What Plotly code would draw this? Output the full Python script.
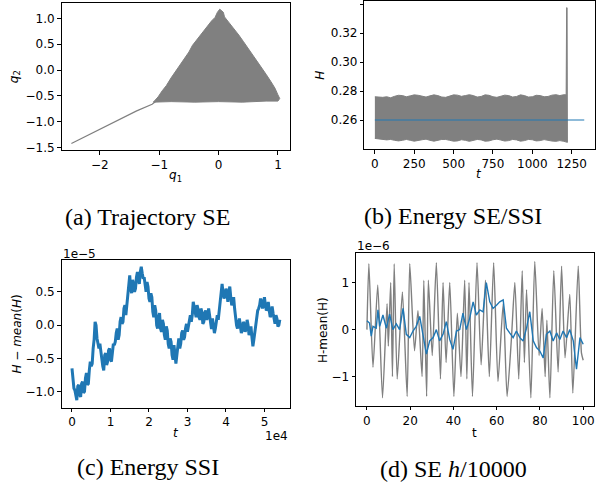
import plotly.graph_objects as go

# ---------------- (a) Trajectory SE ----------------
traj_region_q1 = [-1.10, -1.02, -0.95, -0.88, -0.80, -0.72, -0.66, -0.58, -0.50, -0.44, -0.36, -0.28,
                  -0.20, -0.12, -0.06, -0.02, 0.02, 0.08, 0.10, 0.18, 0.26, 0.34, 0.42, 0.50, 0.58,
                  0.65, 0.72, 0.80, 0.88, 0.95, 1.00, 1.03, 1.00, 0.80, 0.40, 0.00, -0.40, -0.80, -1.10]
traj_region_q2 = [-0.62, -0.52, -0.40, -0.30, -0.15, -0.02, 0.10, 0.22, 0.35, 0.48, 0.60, 0.72,
                  0.85, 0.95, 1.02, 1.12, 1.18, 1.12, 1.03, 0.92, 0.80, 0.68, 0.55, 0.42, 0.30,
                  0.18, 0.05, -0.08, -0.22, -0.35, -0.48, -0.55, -0.60, -0.60, -0.62, -0.61, -0.62, -0.61, -0.62]
traj_tail_q1 = [-2.48, -1.38, -1.12, -1.05]
traj_tail_q2 = [-1.42, -0.79, -0.66, -0.60]

# ---------------- (b) Energy SE/SSI ----------------
se_t = [0, 25, 50, 75, 100, 125, 150, 175, 200, 225, 250, 275, 300, 325, 350, 375, 400, 425, 450, 475,
        500, 525, 550, 575, 600, 625, 650, 675, 700, 725, 750, 775, 800, 825, 850, 875, 900, 925, 950,
        975, 1000, 1025, 1050, 1075, 1100, 1125, 1150, 1175, 1200, 1215]
se_H_upper = [0.2762, 0.2760, 0.2758, 0.2762, 0.2755, 0.2765, 0.2772, 0.2770, 0.2762, 0.2768, 0.2775,
              0.2772, 0.2764, 0.2760, 0.2768, 0.2775, 0.2770, 0.2760, 0.2758, 0.2765, 0.2775, 0.2773,
              0.2765, 0.2770, 0.2776, 0.2770, 0.2760, 0.2764, 0.2775, 0.2772, 0.2762, 0.2758, 0.2766,
              0.2773, 0.2770, 0.2760, 0.2764, 0.2775, 0.2770, 0.2760, 0.2762, 0.2772, 0.2770, 0.2762,
              0.2764, 0.2773, 0.2776, 0.2770, 0.2776, 0.2775]
se_H_lower = [0.2475, 0.2470, 0.2468, 0.2465, 0.2468, 0.2462, 0.2458, 0.2462, 0.2468, 0.2462, 0.2456,
              0.2460, 0.2466, 0.2470, 0.2462, 0.2456, 0.2460, 0.2468, 0.2468, 0.2462, 0.2456, 0.2458,
              0.2466, 0.2462, 0.2455, 0.2460, 0.2468, 0.2465, 0.2456, 0.2458, 0.2466, 0.2470, 0.2464,
              0.2457, 0.2460, 0.2468, 0.2465, 0.2456, 0.2460, 0.2468, 0.2466, 0.2458, 0.2460, 0.2467,
              0.2464, 0.2457, 0.2455, 0.2460, 0.2455, 0.2452]
se_spike_t = [1218, 1221, 1223]
se_spike_H = [0.3375, 0.3375, 0.2448]
ssi_t = [0, 1330]
ssi_H = [0.2602, 0.2602]

# ---------------- (c) Energy SSI (units: 1e4 for t, 1e-5 for H) ----------------
# values at t = 0, 0.05, ..., 5.40
ssi_long_dH = [-0.65, -0.95, -1.10, -0.92, -1.05, -0.88, -1.02, -0.80, -0.90, -0.68, -0.62, -0.35,
               0.05, -0.20, -0.35, -0.40, -0.62, -0.45, -0.60, -0.38, -0.52, -0.40, -0.30, -0.12,
               -0.22, 0.05, 0.02, 0.25, 0.15, 0.55, 0.75, 0.48, 0.62, 0.55, 0.80, 0.62, 0.88, 0.70,
               0.55, 0.65, 0.40, 0.48, 0.20, 0.30, 0.00, 0.12, -0.05, 0.08, -0.15, -0.02, -0.28,
               -0.20, -0.45, -0.30, -0.58, -0.28, -0.35, -0.12, -0.22, -0.05, -0.10, 0.10, 0.05,
               0.35, 0.18, 0.30, 0.12, 0.25, 0.02, 0.18, 0.08, 0.25, -0.02, 0.10, -0.12, 0.05, 0.08,
               0.35, 0.62, 0.40, 0.55, 0.35, 0.58, 0.30, 0.42, 0.10, -0.05, 0.10, -0.12, 0.05, -0.10,
               0.08, -0.15, -0.02, -0.32, -0.10, 0.10, 0.25, 0.40, 0.25, 0.42, 0.22, 0.35, 0.12,
               0.28, 0.05, 0.15, -0.02, 0.08]
# values at t = 0.025, 0.075, ..., 5.375 (between the samples above)
ssi_long_dH_mid = [-0.85, -0.98, -1.13, -0.90, -1.08, -0.85, -1.00, -0.72, -0.88, -0.55, -0.58, -0.22,
                   0.00, -0.30, -0.28, -0.55, -0.68, -0.42, -0.55, -0.35, -0.55, -0.28, -0.25, -0.05,
                   -0.15, 0.12, 0.05, 0.30, 0.30, 0.68, 0.55, 0.68, 0.50, 0.72, 0.70, 0.80, 0.78, 0.72,
                   0.50, 0.58, 0.35, 0.42, 0.12, 0.22, -0.05, 0.18, -0.10, 0.02, -0.22, -0.08, -0.35,
                   -0.25, -0.52, -0.42, -0.45, -0.20, -0.28, -0.08, -0.18, 0.02, -0.02, 0.15, 0.15,
                   0.28, 0.12, 0.24, 0.08, 0.20, 0.05, 0.22, 0.12, 0.15, -0.06, 0.02, -0.05, 0.15, 0.20,
                   0.50, 0.48, 0.45, 0.48, 0.50, 0.42, 0.35, 0.25, 0.00, 0.02, -0.02, -0.08, 0.02, -0.05,
                   0.00, -0.10, -0.18, -0.22, 0.00, 0.22, 0.30, 0.35, 0.32, 0.30, 0.25, 0.22, 0.15,
                   0.18, 0.02, 0.10, 0.00]

# ---------------- (d) SE h/10000 (units: 1e-6) ----------------
se_small_t = [0, 0.9, 2.8, 5.0, 7.2, 9.3, 9.9, 11.0, 11.8, 12.6, 14.0, 16.4, 18.6, 19.8, 22.0, 23.6,
              25.5, 26.3, 27.6, 28.4, 30.2, 32.1, 34.0, 35.2, 36.6, 38.3, 40.2, 41.8, 43.5, 45.2,
              46.2, 47.2, 48.8, 50.9, 52.8, 54.8, 56.6, 58.6, 60.6, 63.0, 64.8, 66.8, 68.4, 70.2,
              71.8, 72.8, 73.8, 75.8, 77.6, 79.6, 81.0, 82.4, 83.2, 84.6, 86.4, 88.4, 90.0, 91.6,
              93.8, 95.2, 97.7, 99.2, 100]
se_small_dH = [0.0, 1.40, -0.80, 0.95, -1.45, 0.55, -0.35, 1.0, -1.0, 1.40, -1.05, 0.80, -1.42, 1.40,
               -0.45, 0.40, -1.0, 1.05, -1.42, 1.05, -0.55, 1.42, -1.05, 1.0, -0.7, 1.0, -1.42, 0.35,
               -1.0, 1.05, -1.05, 1.0, -1.42, 1.42, -0.75, 1.05, -1.0, 1.42, -1.1, 0.55, -1.42, -0.2,
               1.0, -1.05, 1.25, -0.7, 0.85, -1.45, 1.45, -0.55, 0.45, -1.0, 0.2, -1.45, 1.25, -0.9,
               1.35, -0.6, 0.75, -1.35, 1.35, -0.5, -0.65]
ssi_small_t = [0, 1.2, 2.0, 2.8, 4.3, 5.1, 5.9, 7.4, 9.0, 10.5, 12.0, 13.6, 15.1, 16.7, 18.2, 19.8,
               21.3, 22.8, 24.4, 25.9, 27.5, 29.0, 30.6, 32.1, 33.6, 35.2, 36.7, 38.3, 39.8, 41.4,
               42.9, 44.4, 46.0, 47.5, 49.1, 50.6, 52.2, 53.7, 55.2, 56.8, 58.3, 59.9, 61.4, 63.0,
               64.5, 66.0, 67.6, 69.1, 70.7, 72.2, 73.8, 75.3, 76.9, 78.4, 79.9, 81.5, 83.0, 84.6,
               86.1, 87.7, 89.2, 90.7, 92.3, 93.8, 95.4, 96.9, 98.5, 100]
ssi_small_dH = [0.19, 0.14, -0.14, 0.07, 0.03, 0.42, 0.07, 0.31, 0.03, 0.33, 0.0, 0.12, 0.0, 0.45,
                -0.1, -0.17, -0.03, 0.07, 0.28, -0.1, -0.52, -0.24, -0.17, 0.0, -0.24, -0.1, 0.17,
                -0.21, -0.42, -0.03, 0.0, 0.35, 0.0, 0.24, 0.59, 0.31, 0.42, 0.38, 1.0, 0.59, 0.45,
                0.52, 0.59, 0.63, 0.03, -0.07, -0.17, -0.03, -0.17, -0.24, 0.03, 0.38, -0.24, -0.38,
                -0.45, -0.6, -0.1, -0.03, -0.24, -0.07, -0.21, -0.03, -0.17, 0.0, -0.24, -0.84,
                -0.17, -0.31]

captions = ["(a) Trajectory SE", "(b) Energy SE/SSI", "(c) Energy SSI", "(d) SE <i>h</i>/10000"]

GRAY = "#808080"
BLUE = "#1f77b4"
W, H = 608, 492


def px(x):
    return x / W


def py(y):
    return 1 - y / H


fig = go.Figure()

# (a)
fig.add_trace(go.Scatter(x=traj_region_q1, y=traj_region_q2, mode="lines", fill="toself",
                         fillcolor=GRAY, line=dict(color=GRAY, width=1), xaxis="x", yaxis="y",
                         showlegend=False))
fig.add_trace(go.Scatter(x=traj_tail_q1, y=traj_tail_q2, mode="lines",
                         line=dict(color=GRAY, width=1.2), xaxis="x", yaxis="y", showlegend=False))

# (b)
band_t = se_t + se_spike_t + se_t[::-1]
band_H = se_H_upper + se_spike_H + se_H_lower[::-1]
fig.add_trace(go.Scatter(x=band_t, y=band_H, mode="lines", fill="toself", fillcolor=GRAY,
                         line=dict(color=GRAY, width=1), xaxis="x2", yaxis="y2", showlegend=False))
fig.add_trace(go.Scatter(x=ssi_t, y=ssi_H, mode="lines", line=dict(color="rgba(31,119,180,0.5)", width=2.2),
                         xaxis="x2", yaxis="y2", showlegend=False))

# (c) interleave the two sample sets along the time grid
c_t, c_v = [], []
for i, v in enumerate(ssi_long_dH):
    c_t.append(0.05 * i)
    c_v.append(v)
    if i < len(ssi_long_dH_mid):
        c_t.append(0.05 * i + 0.025)
        c_v.append(ssi_long_dH_mid[i])
fig.add_trace(go.Scatter(x=c_t, y=c_v, mode="lines", line=dict(color=BLUE, width=3),
                         xaxis="x3", yaxis="y3", showlegend=False))

# (d)
fig.add_trace(go.Scatter(x=se_small_t, y=se_small_dH, mode="lines", line=dict(color=GRAY, width=1.4, shape="spline", smoothing=0.6),
                         xaxis="x4", yaxis="y4", showlegend=False))
fig.add_trace(go.Scatter(x=ssi_small_t, y=ssi_small_dH, mode="lines", line=dict(color=BLUE, width=1.4),
                         xaxis="x4", yaxis="y4", showlegend=False))

tickfont = dict(family="DejaVu Sans", size=12, color="black")
base = dict(showline=True, mirror=True, linecolor="black", linewidth=1, ticks="outside",
            ticklen=3.5, tickwidth=1, tickcolor="black", showgrid=False, zeroline=False,
            tickfont=tickfont)

fig.update_layout(
    width=W, height=H, margin=dict(l=0, r=0, t=0, b=0),
    paper_bgcolor="white", plot_bgcolor="white",
    xaxis=dict(base, domain=[px(61.7), px(290)], range=[-2.645, 1.195], anchor="y",
               tickvals=[-2, -1, 0, 1]),
    yaxis=dict(base, domain=[py(151.7), py(3)], range=[-1.55, 1.30], anchor="x",
               tickvals=[-1.5, -1.0, -0.5, 0.0, 0.5, 1.0], tickformat=".1f"),
    xaxis2=dict(base, domain=[px(365), px(595.7)], range=[-66.5, 1396.5], anchor="y2",
                tickvals=[0, 250, 500, 750, 1000, 1250]),
    yaxis2=dict(base, domain=[py(151), py(1.5)], range=[0.2399, 0.3418], anchor="x2",
                tickvals=[0.26, 0.28, 0.30, 0.32, 0.34], tickformat=".2f"),
    xaxis3=dict(base, domain=[px(61.7), px(290.7)], range=[-0.27, 5.67], anchor="y3",
                tickvals=[0, 1, 2, 3, 4, 5]),
    yaxis3=dict(base, domain=[py(411.7), py(262.7)], range=[-1.24, 0.98], anchor="x3",
                tickvals=[-1.0, -0.5, 0.0, 0.5], tickformat=".1f"),
    xaxis4=dict(base, domain=[px(356.7), px(595)], range=[-5, 105], anchor="y4",
                tickvals=[0, 20, 40, 60, 80, 100]),
    yaxis4=dict(base, domain=[py(410), py(256)], range=[-1.62, 1.62], anchor="x4",
                tickvals=[-1, 0, 1]),
)

lab = dict(family="DejaVu Sans", size=12, color="black")
annots = [
    # axis labels
    dict(x=px(176), y=py(178), text="<i>q</i><sub>1</sub>"),
    dict(x=px(15), y=py(77), text="<i>q</i><sub>2</sub>", textangle=-90),
    dict(x=px(480), y=py(176), text="<i>t</i>"),
    dict(x=px(321), y=py(76), text="<i>H</i>", textangle=-90),
    dict(x=px(176), y=py(437), text="<i>t</i>"),
    dict(x=px(17), y=py(337), text="<i>H</i> − <i>mean</i>(<i>H</i>)", textangle=-90),
    dict(x=px(475), y=py(437), text="t"),
    dict(x=px(323), y=py(333), text="H-mean(H)", textangle=-90),
    # offset texts
    dict(x=px(61), y=py(256.5), text="1e−5", xanchor="left"),
    dict(x=px(290), y=py(440), text="1e4", xanchor="right"),
    dict(x=px(356), y=py(249), text="1e−6", xanchor="left"),
]
for a in annots:
    a.setdefault("xanchor", "center")
    fig.add_annotation(xref="paper", yref="paper", showarrow=False, yanchor="middle", font=lab, **a)

cap_font = dict(family="'Liberation Serif', 'Times New Roman', Times, serif", size=24, color="black")
cap_pos = [(148, 219), (454, 218), (148, 472), (454, 474)]
for txt, (cx, cy) in zip(captions, cap_pos):
    fig.add_annotation(xref="paper", yref="paper", x=px(cx), y=py(cy), text=txt, showarrow=False,
                       xanchor="center", yanchor="middle", font=cap_font)

fig.write_html("out.html")
